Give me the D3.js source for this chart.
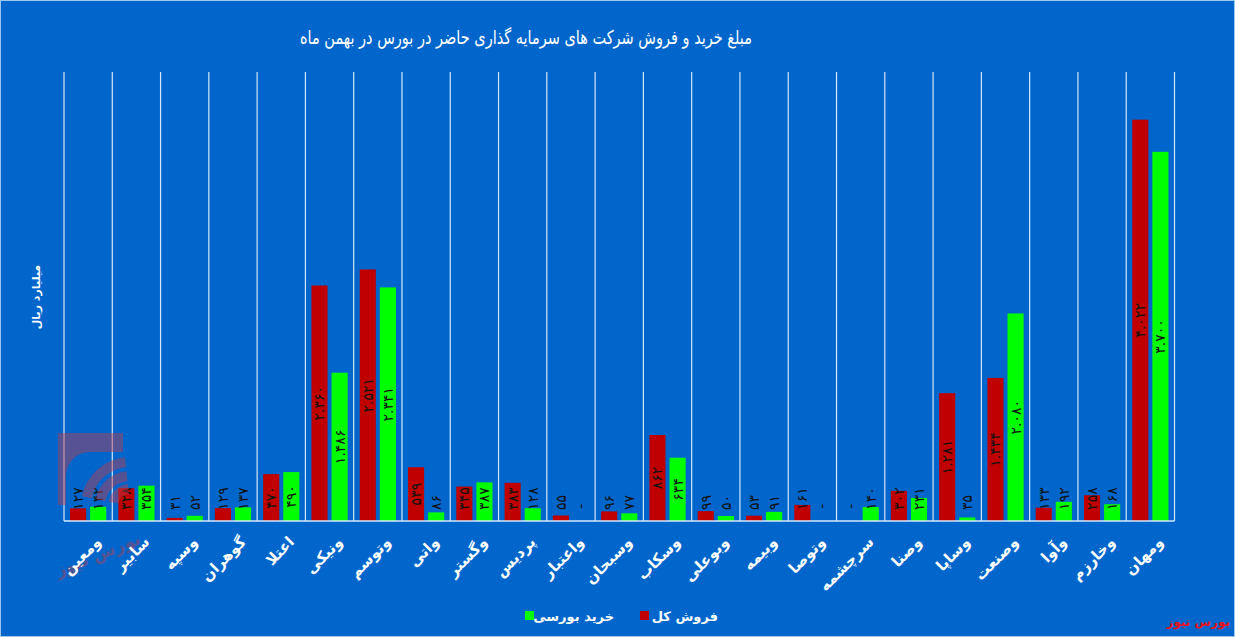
<!DOCTYPE html>
<meta charset="utf-8">
<style>
    body { margin: 0; background: #0066cc; }
    svg { display: block; font-family: "DejaVu Sans", sans-serif; }
</style>
<svg width="1235" height="637"></svg>
<script src="https://d3js.org/d3.v7.min.js"></script>
<script>
    // categories, left to right as in the picture
    const symbols = ["ومعین", "سابیر", "وسپه", "گوهران", "اعتلا", "ونیکی", "وتوسم", "واتی", "وگستر", "پردیس",
        "واعتبار", "وسبحان", "وسکاب", "وبوعلی", "وبیمه", "وتوصا", "سرچشمه", "وصنا", "وساپا", "وصنعت",
        "وآوا", "وخارزم", "ومهان"];
    // فروش کل (billion rials)
    const totalSell = [127, 328, 31, 129, 470, 2360, 2521, 539, 345, 383,
        55, 96, 862, 99, 53, 161, 0, 302, 1281, 1434,
        133, 258, 4022];
    // خرید بورسی (billion rials)
    const exchangeBuy = [142, 354, 52, 137, 490, 1486, 2341, 86, 387, 128,
        0, 77, 634, 50, 91, 0, 140, 231, 35, 2080,
        192, 168, 3700];
    const seriesNames = ["فروش کل", "خرید بورسی"];

    var svg = d3.select("svg"),
        plotLeft = 64, plotRight = 1174.5, plotTop = 72, base = 521;

    let colors = {"فروش کل": "#c00000", "خرید بورسی": "#00ff00"};

    svg.append("rect")
        .attr("x", 0.5).attr("y", 0.5)
        .attr("width", 1234).attr("height", 636)
        .attr("fill", "#0066cc")
        .attr("stroke", "#9cc8ee");

    let x = d3.scaleBand()
        .domain(symbols)
        .range([plotLeft, plotRight]);
    let sub = d3.scaleBand()
        .domain(seriesNames)
        .range([0, x.bandwidth()])
        .paddingInner(0.2)
        .paddingOuter(0.3);
    let y = d3.scaleLinear()
        .domain([0, 4500])
        .range([base, plotTop]);

    // vertical separators
    let bounds = symbols.map(s => x(s)).concat([plotRight]);
    svg.append("g")
        .selectAll("line")
        .data(bounds)
        .join("line")
        .attr("x1", d => d).attr("x2", d => d)
        .attr("y1", plotTop).attr("y2", base)
        .attr("stroke", "#d6e8f8")
        .attr("stroke-width", 1.2);

    // bars
    let rows = symbols.map((s, i) => ({sym: s, vals: [
        {name: seriesNames[0], v: totalSell[i]},
        {name: seriesNames[1], v: exchangeBuy[i]}
    ]}));

    let groups = svg.append("g")
        .selectAll("g")
        .data(rows)
        .join("g")
        .attr("transform", d => `translate(${x(d.sym)},0)`);

    groups.selectAll("rect")
        .data(d => d.vals)
        .join("rect")
        .attr("x", d => sub(d.name))
        .attr("width", sub.bandwidth())
        .attr("y", d => y(d.v))
        .attr("height", d => base - y(d.v))
        .attr("fill", d => colors[d.name]);

    // value labels, persian digits
    let fa = d3.formatLocale({decimal: "٫", thousands: ".", grouping: [3], currency: ["", ""],
        numerals: ["۰", "۱", "۲", "۳", "۴", "۵", "۶", "۷", "۸", "۹"]}).format(",d");
    let lab = d => d.v === 0 ? "-" : fa(d.v);

    groups.selectAll("text")
        .data(d => d.vals)
        .join("text")
        .attr("transform", function (d) {
            let len = lab(d).length * 7.6;
            let mid = (y(d.v) + base) / 2;
            let cy = Math.min(mid, base - 11 - len / 2);
            return `translate(${sub(d.name) + sub.bandwidth() / 2},${cy}) rotate(-90)`;
        })
        .attr("text-anchor", "middle")
        .attr("dominant-baseline", "central")
        .attr("font-size", 14)
        .attr("fill", "#111")
        .text(lab);

    // baseline
    svg.append("line")
        .attr("x1", plotLeft).attr("x2", plotRight)
        .attr("y1", base).attr("y2", base)
        .attr("stroke", "#d6e8f8")
        .attr("stroke-width", 1.5);

    // watermark logo (rough), laid over the first bars
    let logo = svg.append("g").attr("opacity", 0.45).attr("fill", "#c23a4c");
    logo.append("path")
        .attr("d", "M58,433 H123 V452 H90 A24,24 0 0 0 66,476 V505 H58 Z");
    [44, 30, 17].forEach(r => {
        logo.append("path")
            .attr("d", d3.arc()({innerRadius: r - 5, outerRadius: r + 5, startAngle: -Math.PI / 2 + 0.2, endAngle: -0.1}))
            .attr("transform", "translate(130,506)");
    });
    logo.append("text")
        .attr("transform", "translate(100,560) rotate(-22)")
        .attr("text-anchor", "middle")
        .attr("font-size", 17)
        .attr("font-weight", "bold")
        .text("بورس نیوز");

    // category labels
    svg.append("g")
        .selectAll("text")
        .data(symbols)
        .join("text")
        .attr("transform", d => `translate(${x(d) + x.bandwidth() / 2 + 6},${535}) rotate(-45)`)
        .attr("text-anchor", "end")
        .attr("dominant-baseline", "hanging")
        .attr("font-size", 15)
        .attr("font-weight", "bold")
        .attr("fill", "white")
        .text(d => d);

    // title
    svg.append("text")
        .attr("x", 526).attr("y", 44)
        .attr("text-anchor", "middle")
        .attr("font-size", 19)
        .attr("textLength", 452)
        .attr("lengthAdjust", "spacingAndGlyphs")
        .attr("fill", "white")
        .text("مبلغ خرید و فروش شرکت های سرمایه گذاری حاضر در بورس در بهمن ماه");

    // y axis title
    svg.append("text")
        .attr("transform", "translate(36,297) rotate(-90)")
        .attr("text-anchor", "middle")
        .attr("dominant-baseline", "central")
        .attr("font-size", 11)
        .attr("font-weight", "bold")
        .attr("fill", "white")
        .text("میلیارد ریال");

    // legend
    let legend = svg.append("g");
    let legendItems = [
        {name: "خرید بورسی", sq: 525, tx: 614},
        {name: "فروش کل", sq: 640, tx: 718}
    ];
    legend.selectAll("rect")
        .data(legendItems)
        .join("rect")
        .attr("x", d => d.sq).attr("y", 611)
        .attr("width", 9).attr("height", 9)
        .attr("fill", d => colors[d.name]);
    legend.selectAll("text")
        .data(legendItems)
        .join("text")
        .attr("x", d => d.tx).attr("y", 616)
        .attr("text-anchor", "end")
        .attr("dominant-baseline", "central")
        .attr("font-size", 13)
        .attr("font-weight", "bold")
        .attr("fill", "white")
        .text(d => d.name);

    // source mark
    svg.append("text")
        .attr("x", 1230).attr("y", 626)
        .attr("text-anchor", "end")
        .attr("font-size", 12)
        .attr("font-weight", "bold")
        .attr("fill", "#e8101a")
        .text("بورس نیوز");
</script>
